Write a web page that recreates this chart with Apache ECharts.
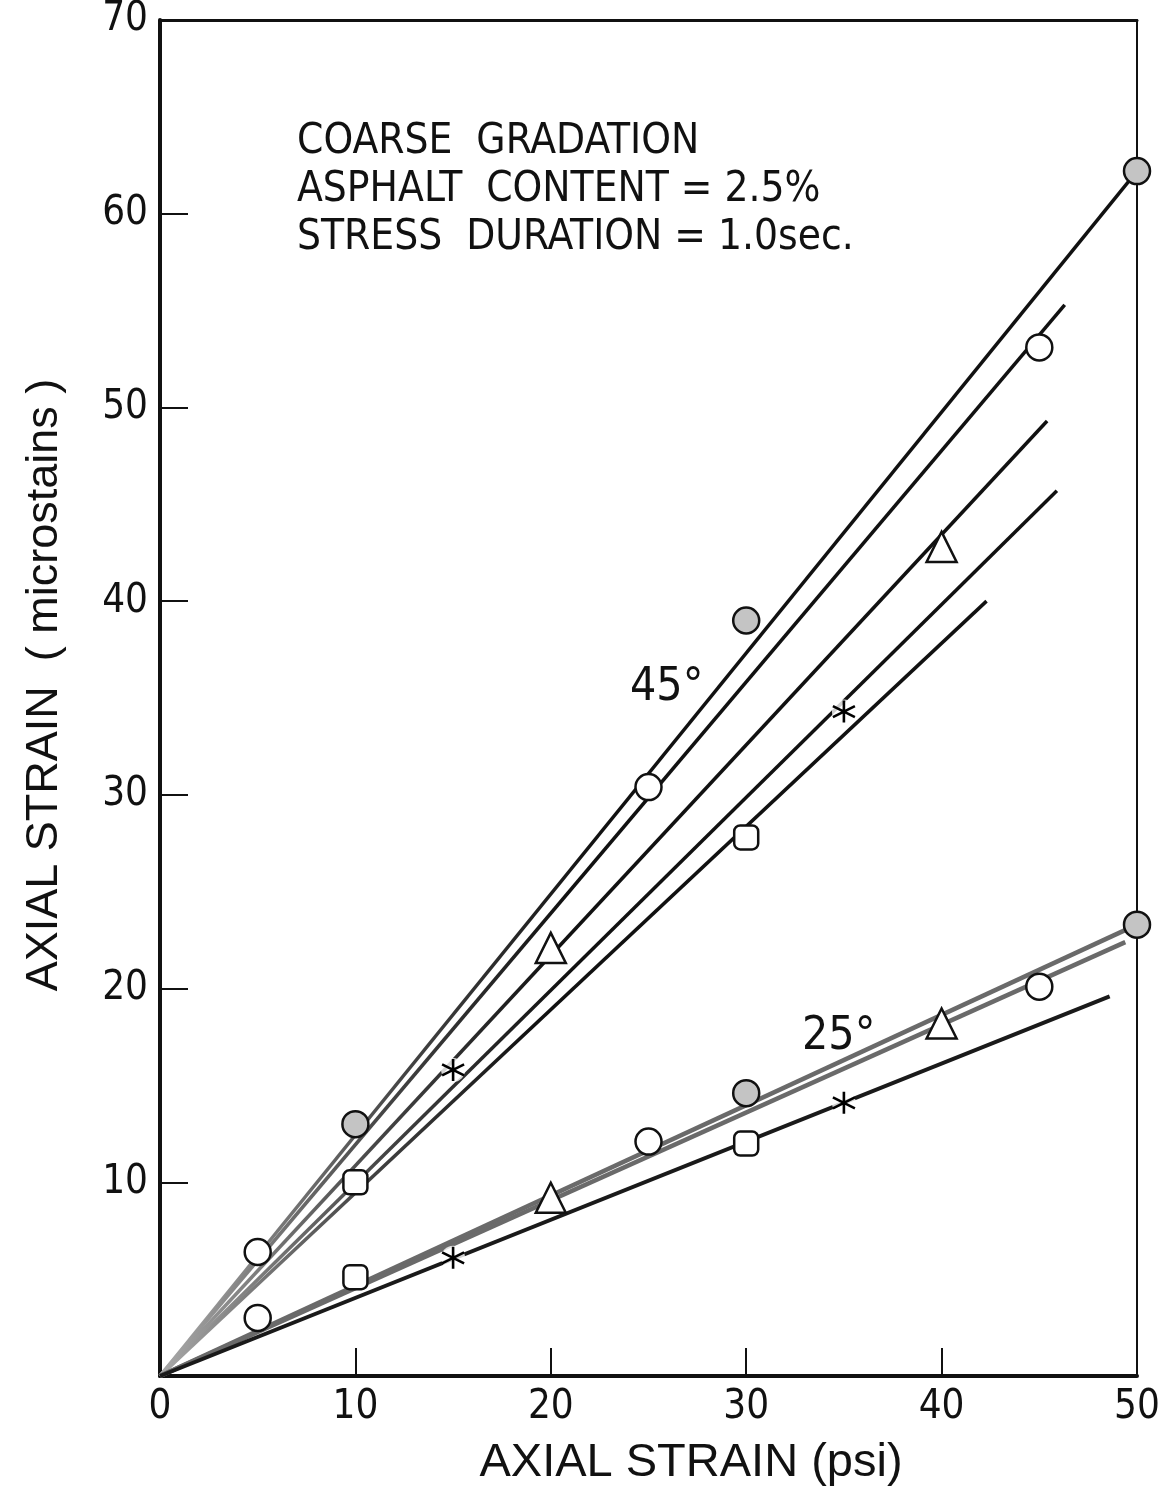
<!DOCTYPE html>
<html>
<head>
<meta charset="utf-8">
<script src="https://cdn.jsdelivr.net/npm/echarts@6/dist/echarts.min.js"></script>
<style>
html,body{margin:0;padding:0;background:#fff;}
#chart{width:1173px;height:1493px;}
</style>
</head>
<body>
<div id="chart"></div>
<script>
// ---- data ----
const xTickLabels = ['0','10','20','30','40','50'];
const yTickLabels = ['0','10','20','30','40','50','60','70'];

// 45 degree group
const filled45 = [[10,13.0],[30,39.0],[50,62.2]];
const open45   = [[5,6.4],[25,30.4],[45,53.1]];
const tri45    = [[20,22.1],[40,42.8]];
const star45   = [[15,15.8],[35,34.3]];
const sq45     = [[10,10.0],[30,27.8]];
const fitFilled45 = [[0,0],[50,62.2]];
const fitOpen45   = [[0,0],[46.3,55.3]];
const fitTri45    = [[0,0],[45.4,49.3]];
const fitStar45   = [[0,0],[45.9,45.7]];
const fitSq45     = [[0,0],[42.3,40.0]];

// 25 degree group
const filled25 = [[30,14.6],[50,23.3]];
const open25   = [[5,3.0],[25,12.1],[45,20.1]];
const tri25    = [[20,9.2],[40,18.2]];
const sq25     = [[10,5.1],[30,12.0]];
const star25   = [[15,6.1],[35,14.1]];
const fitFilled25 = [[0,0],[50,23.3]];
const fitOpen25   = [[0,0],[49.4,22.4]];
const fitSqStar25 = [[0,0],[48.6,19.6]];

const FONT = "'Liberation Sans Narrow','DejaVu Sans Condensed','Open Sans',sans-serif";
const TFONT = "'Liberation Sans','Open Sans',sans-serif";
const ASTER = 'path://M0,-10 L0,10 M-8.66,-5 L8.66,5 M-8.66,5 L8.66,-5';

function fadeLine(){
  return new echarts.graphic.LinearGradient(0,1,1,0,[
    {offset:0,color:'#aaaaaa'},{offset:0.25,color:'#444'},{offset:0.45,color:'#111'},{offset:1,color:'#111'}
  ]);
}
function lineSeries(data, color, width){
  return {type:'line', data:data, symbol:'none', silent:true, z:2,
          lineStyle:{color:color, width:width}};
}
function markerSeries(data, symbol, size, fill, z){
  return {type:'scatter', data:data, symbol:symbol, symbolSize:size, z:z||5, silent:true,
          itemStyle:{color:fill, borderColor:'#111', borderWidth:2.5, opacity:1}};
}
function starBack(data){
  return {type:'scatter', data:data, symbol:'circle', symbolSize:24, z:4, silent:true,
          itemStyle:{color:'#fff', borderWidth:0}};
}
function starSeries(data){
  return {type:'scatter', data:data, symbol:ASTER, symbolSize:22, z:6, silent:true,
          itemStyle:{color:'none', borderColor:'#000', borderWidth:2.6, opacity:1}};
}

const chart = echarts.init(document.getElementById('chart'), null, {renderer:'canvas'});
chart.setOption({
  backgroundColor:'#fff',
  animation:false,
  grid:{left:160, right:36, top:20, bottom:117},
  xAxis:[{
    type:'value', min:0, max:50, interval:10,
    axisLine:{show:true, onZero:false, lineStyle:{color:'#111', width:4}},
    axisTick:{show:true, inside:true, length:28, lineStyle:{color:'#111', width:2}},
    splitLine:{show:false},
    axisLabel:{color:'#111', fontSize:40, fontFamily:FONT, margin:12,
               formatter:function(v){return xTickLabels[Math.round(v/10)];}}
  },{
    type:'value', position:'top', min:0, max:50,
    axisLine:{show:true, onZero:false, lineStyle:{color:'#111', width:3}},
    axisTick:{show:false}, axisLabel:{show:false}, splitLine:{show:false}
  }],
  yAxis:[{
    type:'value', min:0, max:70, interval:10,
    axisLine:{show:true, onZero:false, lineStyle:{color:'#111', width:4}},
    axisTick:{show:true, inside:true, length:28, lineStyle:{color:'#111', width:2}},
    splitLine:{show:false},
    axisLabel:{color:'#111', fontSize:40, fontFamily:FONT, margin:12, showMinLabel:false,
               formatter:function(v){return yTickLabels[Math.round(v/10)];}}
  },{
    type:'value', position:'right', min:0, max:70,
    axisLine:{show:true, onZero:false, lineStyle:{color:'#111', width:2}},
    axisTick:{show:false}, axisLabel:{show:false}, splitLine:{show:false}
  }],
  graphic:[
    {type:'text', left:297, top:118, silent:true,
     style:{text:'COARSE  GRADATION\nASPHALT  CONTENT = 2.5%\nSTRESS  DURATION = 1.0sec.',
            font:'42px '+FONT, fill:'#111', lineHeight:48}},
    {type:'text', left:630, top:665, silent:true,
     style:{text:'45°', font:'46px '+FONT, fill:'#111'}},
    {type:'text', left:802, top:1014, silent:true,
     style:{text:'25°', font:'46px '+FONT, fill:'#111'}},
    {type:'text', x:691, y:1463, silent:true,
     style:{text:'AXIAL STRAIN (psi)', font:'47px '+TFONT, fill:'#111',
            textAlign:'center', textVerticalAlign:'middle'}},
    {type:'text', x:45, y:685, rotation:Math.PI/2, silent:true,
     style:{text:'AXIAL STRAIN  ( microstains )', font:'45px '+TFONT, fill:'#111',
            textAlign:'center', textVerticalAlign:'middle'}}
  ],
  series:[
    lineSeries(fitFilled45, fadeLine(), 3.5),
    lineSeries(fitOpen45, fadeLine(), 3.5),
    lineSeries(fitTri45, fadeLine(), 3.5),
    lineSeries(fitStar45, fadeLine(), 3.5),
    lineSeries(fitSq45, fadeLine(), 3.5),
    lineSeries(fitFilled25, '#6a6a6a', 4.5),
    lineSeries(fitOpen25, '#6a6a6a', 4.5),
    lineSeries(fitSqStar25, '#1a1a1a', 4),
    markerSeries(filled45, 'circle', 26, '#c4c4c4'),
    markerSeries(open45, 'circle', 26, '#fff'),
    markerSeries(tri45, 'triangle', 30, '#fff'),
    markerSeries(sq45, 'roundRect', 24, '#fff'),
    starBack(star45), starSeries(star45),
    markerSeries(filled25, 'circle', 26, '#c4c4c4'),
    markerSeries(open25, 'circle', 26, '#fff'),
    markerSeries(tri25, 'triangle', 30, '#fff'),
    markerSeries(sq25, 'roundRect', 24, '#fff'),
    starBack(star25), starSeries(star25)
  ]
});
</script>
</body>
</html>
